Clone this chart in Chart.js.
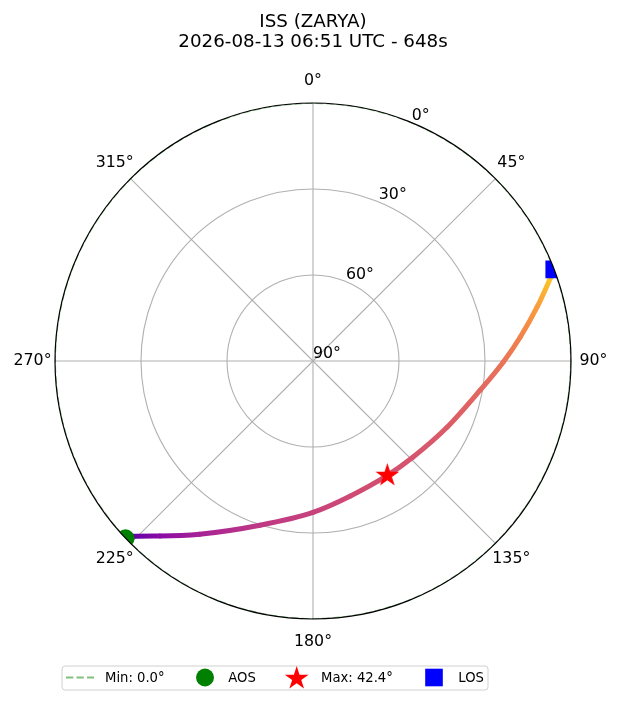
<!DOCTYPE html>
<html><head><meta charset="utf-8">
<script src="https://cdn.jsdelivr.net/npm/chart.js@4.4.1/dist/chart.umd.min.js"></script>
<style>html,body{margin:0;padding:0;background:#fff;}canvas{display:block;}</style>
</head><body>
<canvas id="c" width="620" height="702" style="width:620px;height:702px"></canvas>
<script>
// ---------- data ----------
const titleLines = ['ISS (ZARYA)', '2026-08-13 06:51 UTC - 648s'];
const passAz  = [226.6, 225.8, 221.2, 213.2, 197.9, 180.0, 164.7, 147.0, 133.8, 116.2, 99.9, 90.3, 83.4, 76.4, 70.7, 69.2];
const passEl  = [0.0, 2.3, 8.9, 17.8, 29.8, 37.2, 41.1, 42.4, 41.6, 37.8, 30.8, 23.6, 17.2, 9.5, 2.2, 0.0];
const passSec = [0, 36, 119, 193, 255, 285, 309, 324, 338, 360, 390, 423, 459, 523, 612, 648];
const aosAz = 226.6, aosEl = 0.0;
const maxAz = 147.0, maxEl = 42.4;
const losAz = 69.2,  losEl = 0.0;
const minElevation = 0.0;
const azTicks = [0, 45, 90, 135, 180, 225, 270, 315];
const azTickLabels = ['0°', '45°', '90°', '135°', '180°', '225°', '270°', '315°'];
const elTicks = [0, 30, 60, 90];
const elTickLabels = ['0°', '30°', '60°', '90°'];
const legendLabels = ['Min: 0.0°', 'AOS', 'Max: 42.4°', 'LOS'];

// ---------- helpers ----------
const FONT = "'DejaVu Sans', sans-serif";
function toXY(az, el) {
  const a = az * Math.PI / 180, r = 90 - el;
  return { x: r * Math.sin(a), y: r * Math.cos(a) };
}
const PLASMA = ['#0d0887','#41049d','#6a00a8','#8f0da4','#b12a90','#cc4778','#e16462','#f2844b','#fca636','#fcce25','#f0f921'];
function hexRgb(h){ return [parseInt(h.slice(1,3),16), parseInt(h.slice(3,5),16), parseInt(h.slice(5,7),16)]; }
function plasma(v){
  v = Math.min(1, Math.max(0, v));
  const f = v * 10, i = Math.min(9, Math.floor(f)), t = f - i;
  const a = hexRgb(PLASMA[i]), b = hexRgb(PLASMA[i+1]);
  return 'rgb(' + a.map((c,k)=>Math.round(c + (b[k]-c)*t)).join(',') + ')';
}
const COLOR_LO = 0.14, COLOR_HI = 0.92;
const totalSec = passSec[passSec.length-1];
function colorAt(i){ return plasma(COLOR_LO + (COLOR_HI-COLOR_LO) * passSec[i] / totalSec); }

function starPath(g, cx, cy, R){
  const r = R * 0.381966;
  g.beginPath();
  for (let k = 0; k < 10; k++) {
    const ang = -Math.PI/2 + k * Math.PI/5;
    const rr = (k % 2 === 0) ? R : r;
    const px = cx + rr*Math.cos(ang), py = cy + rr*Math.sin(ang);
    if (k === 0) g.moveTo(px, py); else g.lineTo(px, py);
  }
  g.closePath();
}
function makeStar(R, color){
  const s = Math.ceil(2*R + 4);
  const cv = document.createElement('canvas'); cv.width = s; cv.height = s;
  const g = cv.getContext('2d');
  starPath(g, s/2, s/2, R);
  g.fillStyle = color; g.fill();
  return cv;
}
const starImg = makeStar(12.5, '#ff0000');

const trackData = passAz.map((az, i) => toXY(az, passEl[i]));

// ---------- plugin ----------
const polarPlugin = {
  id: 'polarFrame',
  beforeDatasetsDraw(chart) {
    const { ctx, scales: { x, y } } = chart;
    const cx = x.getPixelForValue(0), cy = y.getPixelForValue(0);
    const R = x.getPixelForValue(90) - cx;
    ctx.save();
    ctx.strokeStyle = '#b0b0b0'; ctx.lineWidth = 1.1;
    for (const el of elTicks) {
      const r = x.getPixelForValue(90 - el) - cx;
      if (r > 0.5 && r < R - 0.5) { ctx.beginPath(); ctx.arc(cx, cy, r, 0, 2*Math.PI); ctx.stroke(); }
    }
    for (const az of azTicks) {
      const p = toXY(az, 0);
      ctx.beginPath(); ctx.moveTo(cx, cy);
      ctx.lineTo(x.getPixelForValue(p.x), y.getPixelForValue(p.y)); ctx.stroke();
    }
    ctx.restore();
    ctx.save();
    ctx.beginPath(); ctx.arc(cx, cy, R, 0, 2*Math.PI); ctx.clip();
    const rMin = x.getPixelForValue(90 - minElevation) - cx;
    ctx.save();
    ctx.strokeStyle = 'rgba(0,128,0,0.5)'; ctx.lineWidth = 2; ctx.setLineDash([7.3, 3.2]);
    ctx.beginPath(); ctx.arc(cx, cy, rMin, 0, 2*Math.PI); ctx.stroke();
    ctx.restore();
  },
  afterDatasetsDraw(chart) {
    const { ctx, scales: { x, y } } = chart;
    ctx.restore();
    const cx = x.getPixelForValue(0), cy = y.getPixelForValue(0);
    const R = x.getPixelForValue(90) - cx;
    ctx.save();
    ctx.strokeStyle = '#000'; ctx.lineWidth = 1.2;
    ctx.beginPath(); ctx.arc(cx, cy, R, 0, 2*Math.PI); ctx.stroke();
    ctx.fillStyle = '#000';
    ctx.font = '15.8px ' + FONT;
    ctx.textAlign = 'center'; ctx.textBaseline = 'alphabetic';
    const rl = R + 22.5;
    azTicks.forEach((az, i) => {
      const a = az * Math.PI / 180;
      ctx.fillText(azTickLabels[i], cx + rl*Math.sin(a), cy - rl*Math.cos(a) + 4.1);
    });
    ctx.textAlign = 'left';
    const la = 22.5 * Math.PI / 180;
    elTicks.forEach((el, i) => {
      const r = x.getPixelForValue(90 - el) - cx;
      ctx.fillText(elTickLabels[i], cx + r*Math.sin(la), cy - r*Math.cos(la) - 3);
    });
    ctx.restore();
  },
  afterDraw(chart) {
    const { ctx, scales: { x } } = chart;
    const cx = x.getPixelForValue(0);
    ctx.save();
    ctx.fillStyle = '#000';
    ctx.font = '18.3px ' + FONT;
    ctx.textAlign = 'center'; ctx.textBaseline = 'alphabetic';
    ctx.fillText(titleLines[0], cx, 27);
    ctx.fillText(titleLines[1], cx, 47);
    const bx = 62, by = 666, bw = 426, bh = 24, rad = 3;
    ctx.beginPath();
    ctx.moveTo(bx+rad, by); ctx.lineTo(bx+bw-rad, by); ctx.arcTo(bx+bw, by, bx+bw, by+rad, rad);
    ctx.lineTo(bx+bw, by+bh-rad); ctx.arcTo(bx+bw, by+bh, bx+bw-rad, by+bh, rad);
    ctx.lineTo(bx+rad, by+bh); ctx.arcTo(bx, by+bh, bx, by+bh-rad, rad);
    ctx.lineTo(bx, by+rad); ctx.arcTo(bx, by, bx+rad, by, rad); ctx.closePath();
    ctx.fillStyle = 'rgba(255,255,255,0.8)'; ctx.fill();
    ctx.strokeStyle = '#d0d0d0'; ctx.lineWidth = 1; ctx.stroke();
    const ly = 677.5;
    ctx.save();
    ctx.strokeStyle = 'rgba(0,128,0,0.5)'; ctx.lineWidth = 2; ctx.setLineDash([7.3, 3.2]);
    ctx.beginPath(); ctx.moveTo(66, ly); ctx.lineTo(94, ly); ctx.stroke();
    ctx.restore();
    ctx.fillStyle = '#008000';
    ctx.beginPath(); ctx.arc(205, ly, 9, 0, 2*Math.PI); ctx.fill();
    starPath(ctx, 296.7, ly + 1, 12.5); ctx.fillStyle = '#ff0000'; ctx.fill();
    ctx.fillStyle = '#0000ff'; ctx.fillRect(434 - 8.8, ly - 8.8, 17.6, 17.6);
    ctx.fillStyle = '#000'; ctx.font = '13.2px ' + FONT; ctx.textAlign = 'left';
    ctx.fillText(legendLabels[0], 105, 682.3);
    ctx.fillText(legendLabels[1], 228.3, 682.3);
    ctx.fillText(legendLabels[2], 321, 682.3);
    ctx.fillText(legendLabels[3], 458.3, 682.3);
    ctx.restore();
  }
};

// ---------- chart ----------
new Chart(document.getElementById('c'), {
  type: 'scatter',
  data: {
    datasets: [
      { label: legendLabels[2], data: [toXY(maxAz, maxEl)], pointStyle: starImg, pointRadius: 12, order: 1 },
      { label: legendLabels[1], data: [toXY(aosAz, aosEl)], pointStyle: 'circle', pointRadius: 9,
        backgroundColor: '#008000', borderWidth: 0, order: 2 },
      { label: legendLabels[3], data: [toXY(losAz, losEl)], pointStyle: 'rect', pointRadius: 12.4,
        backgroundColor: '#0000ff', borderWidth: 0, order: 3 },
      { label: 'track', data: trackData, showLine: true, pointRadius: 0, borderWidth: 5,
        cubicInterpolationMode: 'monotone',
        borderCapStyle: 'round', borderJoinStyle: 'round', order: 10,
        segment: {
          borderColor: (c) => {
            const g = c.chart.ctx.createLinearGradient(c.p0.x, c.p0.y, c.p1.x, c.p1.y);
            g.addColorStop(0, colorAt(c.p0DataIndex));
            g.addColorStop(1, colorAt(c.p1DataIndex));
            return g;
          }
        }
      }
    ]
  },
  options: {
    responsive: false,
    animation: false,
    layout: { padding: { left: 55, right: 49, top: 103, bottom: 83 } },
    scales: {
      x: { type: 'linear', min: -90, max: 90, display: false },
      y: { type: 'linear', min: -90, max: 90, display: false }
    },
    plugins: { legend: { display: false }, title: { display: false }, tooltip: { enabled: false } },
    events: []
  },
  plugins: [polarPlugin]
});
</script>
</body></html>
